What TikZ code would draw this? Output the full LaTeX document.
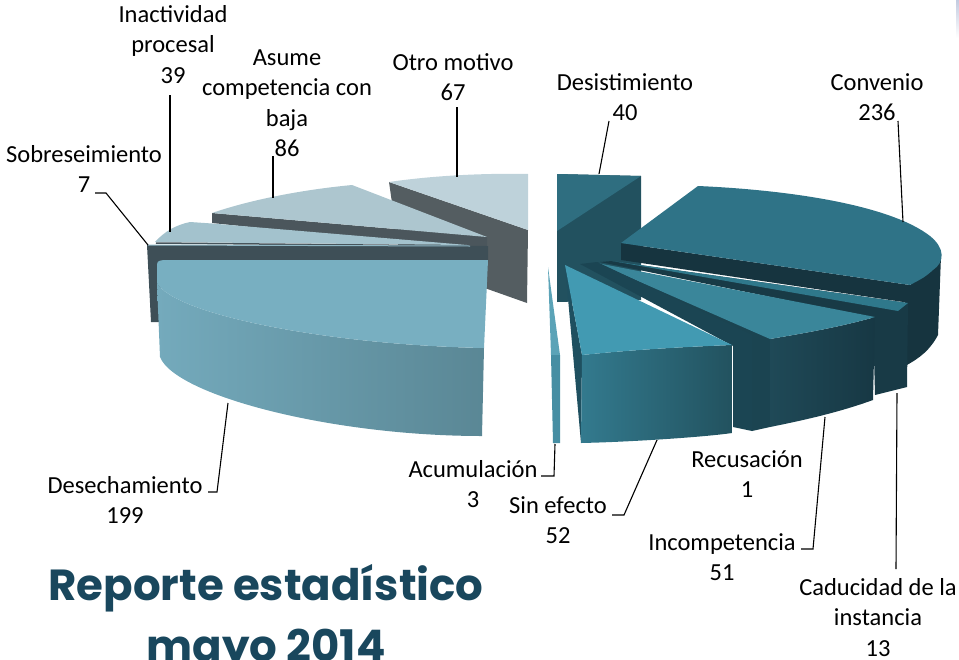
\documentclass[tikz,border=0pt]{standalone}
\usepackage{fontspec}
\setmainfont{Carlito}
\newfontfamily\titlefont{Poppins}
\usepackage{tikz}
\definecolor{otrotop}{HTML}{BED2DA}
\definecolor{otroside}{HTML}{545D61}
\definecolor{asumetop}{HTML}{ADC6CF}
\definecolor{asumeside}{HTML}{4B565C}
\definecolor{inacttop}{HTML}{A3C2CD}
\definecolor{inactside}{HTML}{47555C}
\definecolor{sobretop}{HTML}{8FB7C5}
\definecolor{sobreside}{HTML}{3E4F57}
\definecolor{desechtop}{HTML}{78AFC1}
\definecolor{desechrim}{HTML}{74AABC}
\definecolor{desechdark}{HTML}{5A8795}
\definecolor{desisttop}{HTML}{2F6E80}
\definecolor{desistside}{HTML}{22515F}
\definecolor{convtop}{HTML}{2F7387}
\definecolor{convside}{HTML}{16343F}
\definecolor{caductop}{HTML}{2F788B}
\definecolor{caducside}{HTML}{183A46}
\definecolor{incomptop}{HTML}{3A869A}
\definecolor{incompleft}{HTML}{1B4451}
\definecolor{incompside}{HTML}{1F4957}
\definecolor{incompdark}{HTML}{173844}
\definecolor{recus}{HTML}{1B4553}
\definecolor{sintop}{HTML}{429AB2}
\definecolor{sinside}{HTML}{337A8E}
\definecolor{sindark}{HTML}{22525F}
\definecolor{sinleft}{HTML}{1F5060}
\definecolor{acumtop}{HTML}{5BA3B7}
\definecolor{acumside}{HTML}{468EA3}
\definecolor{titleblue}{HTML}{19475D}
\definecolor{edgeblue}{HTML}{C3CBE0}
\newcommand{\lblfont}{\fontsize{24.5}{30.5}\selectfont}
\newcommand{\lines}[1]{\begin{tabular}[t]{@{}c@{}}#1\end{tabular}}
\tikzstyle{lbl}=[font=\lblfont,anchor=base,inner sep=0pt]
\tikzstyle{leader}=[draw=black,line width=1.1pt]

\begin{document}
\begin{tikzpicture}[x=1pt,y=-1pt]
\useasboundingbox (0,0) rectangle (959,659);
\shade[top color=edgeblue,bottom color=white] (956,0) rectangle (959,38);
% Otro motivo
\fill[otroside] (389,182) -- (528,230) -- (527,303) -- (400,258) -- cycle;
\fill[otrotop] (389,182) .. controls (430,176) and (480,173) .. (528,174) -- (528,230) -- cycle;
% Asume competencia con baja
\fill[asumeside] (212,213) -- (487,237) -- (487,252) -- (212,223) -- cycle;
\fill[asumetop] (212,213) .. controls (250,200) and (300,190) .. (352,185) -- (487,237) -- cycle;
% Inactividad procesal
\fill[inacttop] (155,242) .. controls (165,231) and (176,225) .. (190,222) -- (212,223.5) -- (467,245) -- cycle;
\draw[inactside,line width=1.5pt] (156,243) -- (467,246);
% Sobreseimiento
\fill[sobreside] (147,245) -- (488,246) -- (488,262) -- (162,262) -- (159,322) -- (151,322) -- cycle;
\draw[sobretop,line width=1pt] (148,245) -- (470,246);
% Desechamiento
\shade[left color=desechrim,right color=desechdark] (157,283) .. controls (175,315) and (330,345) .. (484,348)
  -- (482,436) .. controls (330,436) and (175,395) .. (160,357) -- cycle;
\fill[desechtop] (157,283) -- (157,268) .. controls (157,261) .. (164,260) -- (488,260) -- (484,348)
  .. controls (330,345) and (175,315) .. (157,283) -- cycle;
% Desistimiento
\fill[desistside] (557,174) -- (641,176) -- (641,300) -- (557,302) -- cycle;
\fill[desisttop] (557,174) -- (641,176) -- (557,231) -- cycle;
% Convenio
\fill[convside] (905,290) -- (935,262) -- (941,256) -- (938,335) .. controls (930,350) and (920,358) .. (905,366) -- cycle;
\fill[convside] (621,243) -- (910,285) -- (910,303) -- (621,260) -- cycle;
\fill[convtop] (621,243) -- (698,186) .. controls (790,190) and (890,205) .. (930,236)
  .. controls (945,248) and (945,262) .. (933,270) .. controls (925,277) .. (910,285) -- cycle;
% Caducidad de la instancia
\fill[caducside] (600,262) -- (612,261) -- (908,303) -- (907,387) -- (875,395) -- (873,318) -- cycle;
\fill[caductop] (612,261) -- (908,303) -- (898,311) -- cycle;
% Incompetencia
\fill[incompleft] (597,262) -- (770,338) -- (770,427) -- (752,431) -- (752,340) -- cycle;
\shade[left color=incompside,right color=incompdark] (770,339) .. controls (805,333) and (840,327) .. (875,317)
  -- (873,400) .. controls (840,412) and (805,420) .. (770,427) -- cycle;
\fill[incomptop] (597,263) -- (875,317) .. controls (840,327) and (805,333) .. (770,339) -- cycle;
% Recusacion
\fill[recus] (580,264) -- (597,262) -- (752,335) -- (752,431) -- (733,427) -- (733,346) -- cycle;
% Sin efecto
\fill[sinleft] (565,265) -- (582,355) -- (581,443) -- cycle;
\shade[left color=sinside,right color=sindark] (582,355) .. controls (630,350) and (680,347) .. (732,345)
  -- (732,433) .. controls (705,437) and (630,442) .. (581,443) -- cycle;
\fill[sintop] (565,265) -- (732,345) .. controls (680,347) and (630,350) .. (582,355) -- cycle;
% Acumulacion
\fill[acumtop] (548,267) -- (560,355) -- (551,355) -- cycle;
\fill[acumside] (551,355) -- (560,355) -- (560,443) -- (553,443) -- cycle;

% labels
\node[lbl] (inact) at (173,22) {\lines{Inactividad\\procesal\\39}};
\node[lbl] (asume) at (287,65) {\lines{Asume\\competencia con\\baja\\86}};
\node[lbl] (otro) at (453,70) {\lines{Otro motivo\\67}};
\node[lbl] (desist) at (625,90) {\lines{Desistimiento\\40}};
\node[lbl] (conv) at (877,90) {\lines{Convenio\\236}};
\node[lbl] (sobre) at (84,162) {\lines{Sobreseimiento\\7}};
\node[lbl] (desech) at (125,493) {\lines{Desechamiento\\199}};
\node[lbl] (acum) at (473,477) {\lines{Acumulación\\3}};
\node[lbl] (sinef) at (558,513) {\lines{Sin efecto\\52}};
\node[lbl] (recus) at (747,467) {\lines{Recusación\\1}};
\node[lbl] (incomp) at (722,550) {\lines{Incompetencia\\51}};
\node[lbl] (caduc) at (878,595) {\lines{Caducidad de la\\instancia\\13}};

% leader lines
\coordinate (inact-a) at (170,95);   \coordinate (inact-b) at (170,232);
\coordinate (asume-a) at (273,156);  \coordinate (asume-b) at (273,198);
\coordinate (otro-a) at (457,107);   \coordinate (otro-b) at (457,177);
\coordinate (desist-a) at (609,121); \coordinate (desist-b) at (599,174);
\coordinate (conv-a) at (898,121);   \coordinate (conv-b) at (903,222);
\coordinate (sobre-a) at (95,193);   \coordinate (sobre-k) at (106,193);   \coordinate (sobre-b) at (148,245);
\coordinate (desech-a) at (208,492); \coordinate (desech-k) at (217,492);  \coordinate (desech-b) at (228,403);
\coordinate (acum-a) at (541,476);   \coordinate (acum-k) at (554,476);    \coordinate (acum-b) at (555,444);
\coordinate (sinef-a) at (612,515);  \coordinate (sinef-k) at (624,515);   \coordinate (sinef-b) at (657,440);
\coordinate (incomp-a) at (801,549); \coordinate (incomp-k) at (813,549);  \coordinate (incomp-b) at (825,417);
\coordinate (caduc-a) at (896,569);  \coordinate (caduc-b) at (897,393);
\draw[leader] (inact-a) -- (inact-b);
\draw[leader] (asume-a) -- (asume-b);
\draw[leader] (otro-a) -- (otro-b);
\draw[leader] (desist-a) -- (desist-b);
\draw[leader] (conv-a) -- (conv-b);
\draw[leader] (sobre-a) -- (sobre-k) -- (sobre-b);
\draw[leader] (desech-a) -- (desech-k) -- (desech-b);
\draw[leader] (acum-a) -- (acum-k) -- (acum-b);
\draw[leader] (sinef-a) -- (sinef-k) -- (sinef-b);
\draw[leader] (incomp-a) -- (incomp-k) -- (incomp-b);
\draw[leader] (caduc-a) -- (caduc-b);

% title
\node[font=\titlefont\bfseries\fontsize{43.5}{61}\selectfont,text=titleblue,anchor=base,inner sep=0pt] (title) at (266,600)
  {\lines{Reporte estadístico\\mayo 2014}};
\end{tikzpicture}
\end{document}
